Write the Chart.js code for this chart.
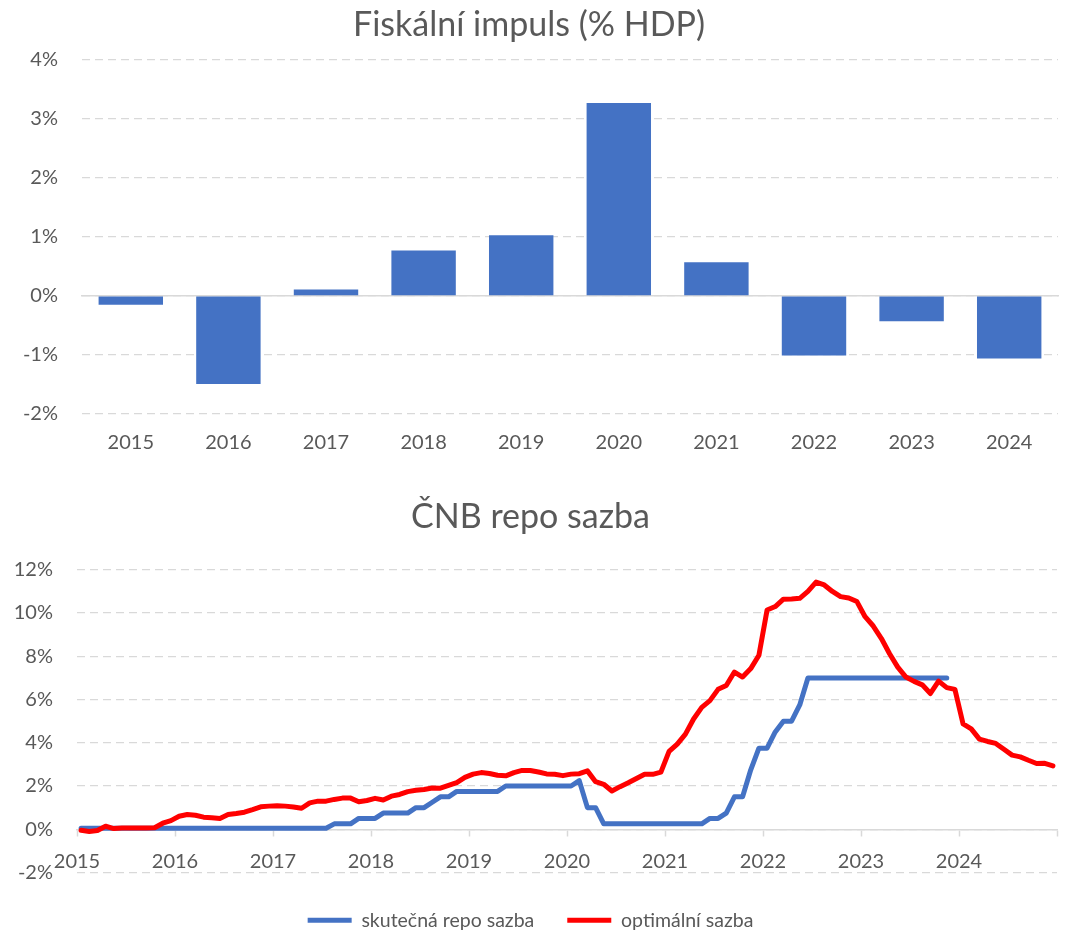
<!DOCTYPE html>
<html>
<head>
<meta charset="utf-8">
<script src="https://cdn.jsdelivr.net/npm/chart.js@4/dist/chart.umd.min.js"></script>
<style>
    html, body { margin: 0; padding: 0; background: #fff; }
    .box { position: absolute; left: 0; width: 1071px; }
    #topBox { top: 0; height: 470px; }
    #bottomBox { top: 470px; height: 465px; }
</style>
</head>
<body>
<div class="box" id="topBox"><canvas id="impulsChart"></canvas></div>
<div class="box" id="bottomBox"><canvas id="repoChart"></canvas></div>
<script>
// Fiskální impuls (% HDP)
const impulseYears = ['2015', '2016', '2017', '2018', '2019', '2020', '2021', '2022', '2023', '2024'];
const impulseValues = [-0.15, -1.49, 0.11, 0.77, 1.03, 3.27, 0.57, -1.01, -0.43, -1.06];

// ČNB repo sazba, monthly from Jan 2015 to Dec 2024
const repoStartYear = 2015;
const actualRepo = [
    0.05, 0.05, 0.05, 0.05, 0.05, 0.05, 0.05, 0.05, 0.05, 0.05, 0.05, 0.05, // 2015
    0.05, 0.05, 0.05, 0.05, 0.05, 0.05, 0.05, 0.05, 0.05, 0.05, 0.05, 0.05, // 2016
    0.05, 0.05, 0.05, 0.05, 0.05, 0.05, 0.05, 0.25, 0.25, 0.25, 0.5, 0.5,   // 2017
    0.5, 0.75, 0.75, 0.75, 0.75, 1.0, 1.0, 1.25, 1.5, 1.5, 1.75, 1.75,      // 2018
    1.75, 1.75, 1.75, 1.75, 2.0, 2.0, 2.0, 2.0, 2.0, 2.0, 2.0, 2.0,         // 2019
    2.0, 2.25, 1.0, 1.0, 0.25, 0.25, 0.25, 0.25, 0.25, 0.25, 0.25, 0.25,    // 2020
    0.25, 0.25, 0.25, 0.25, 0.25, 0.5, 0.5, 0.75, 1.5, 1.5, 2.75, 3.75,     // 2021
    3.75, 4.5, 5.0, 5.0, 5.75, 7.0, 7.0, 7.0, 7.0, 7.0, 7.0, 7.0,           // 2022
    7.0, 7.0, 7.0, 7.0, 7.0, 7.0, 7.0, 7.0, 7.0, 7.0, 7.0, null,            // 2023
    null, null, null, null, null, null, null, null, null, null, null, null  // 2024
];
const optimalRate = [
    -0.05, -0.1, -0.06, 0.14, 0.03, 0.06, 0.06, 0.06, 0.06, 0.07, 0.28, 0.4, // 2015
    0.6, 0.68, 0.65, 0.56, 0.53, 0.5, 0.68, 0.73, 0.79, 0.91, 1.04, 1.07,     // 2016
    1.09, 1.07, 1.03, 0.97, 1.22, 1.3, 1.3, 1.38, 1.44, 1.44, 1.27, 1.33,     // 2017
    1.43, 1.35, 1.53, 1.61, 1.74, 1.8, 1.84, 1.91, 1.9, 2.03, 2.16, 2.4,      // 2018
    2.55, 2.62, 2.58, 2.5, 2.47, 2.62, 2.72, 2.72, 2.65, 2.56, 2.54, 2.48,    // 2019
    2.55, 2.57, 2.7, 2.2, 2.08, 1.77, 1.97, 2.15, 2.35, 2.54, 2.54, 2.64,     // 2020
    3.6, 3.94, 4.4, 5.1, 5.64, 5.95, 6.47, 6.65, 7.27, 7.04, 7.43, 8.05,      // 2021
    10.14, 10.3, 10.64, 10.65, 10.68, 11.0, 11.43, 11.3, 11.0, 10.76, 10.7, 10.53, // 2022
    9.83, 9.4, 8.82, 8.12, 7.5, 7.04, 6.84, 6.68, 6.28, 6.85, 6.55, 6.47,     // 2023
    4.87, 4.64, 4.17, 4.06, 3.97, 3.7, 3.43, 3.35, 3.19, 3.04, 3.05, 2.93     // 2024
];

const textColor = '#595959';
const gridColor = '#d9d9d9';
const blue = '#4472c4';
const red = '#ff0000';

Chart.defaults.font.family = 'Lato, "Open Sans", sans-serif';
Chart.defaults.color = textColor;

const pct = v => v + '%';
// mid-month dates as fractional years
const toPoints = values => values.map((v, i) => ({ x: repoStartYear + (i + 0.5) / 12, y: v }));

// Fiscal impulse bar chart
new Chart(document.getElementById('impulsChart'), {
    type: 'bar',
    data: {
        labels: impulseYears,
        datasets: [{
            data: impulseValues,
            backgroundColor: blue,
            barPercentage: 0.66,
            categoryPercentage: 1,
            xAxisID: 'x'
        }]
    },
    options: {
        responsive: true,
        maintainAspectRatio: false,
        animation: false,
        layout: { padding: { left: 0, right: 13, top: 0, bottom: 0 } },
        plugins: {
            legend: { display: false },
            tooltip: { enabled: false },
            title: {
                display: true,
                text: 'Fiskální impuls (% HDP)',
                color: textColor,
                font: { size: 34, weight: 'normal' },
                padding: { top: 5, bottom: 14 }
            }
        },
        scales: {
            x: {
                grid: { display: false },
                border: { display: false },
                ticks: { font: { size: 20 }, padding: 9 },
                afterFit: s => { s.height = 56; }
            },
            zeroLine: {
                axis: 'x',
                type: 'category',
                labels: impulseYears,
                position: { y: 0 },
                ticks: { display: false },
                grid: { display: false },
                border: { display: true, color: gridColor, width: 1.5 }
            },
            y: {
                min: -2,
                max: 4,
                ticks: { stepSize: 1, callback: pct, font: { size: 20 }, padding: 24 },
                grid: { color: gridColor, drawTicks: false, lineWidth: 1.3 },
                border: { display: false, dash: [8, 5] },
                afterFit: s => { s.width = 82; }
            }
        }
    }
});

// Repo rate line chart
new Chart(document.getElementById('repoChart'), {
    type: 'line',
    data: {
        datasets: [{
            label: 'skutečná repo sazba',
            data: toPoints(actualRepo),
            borderColor: blue,
            backgroundColor: blue,
            borderWidth: 5,
            borderCapStyle: 'round',
            borderJoinStyle: 'round',
            pointRadius: 0,
            xAxisID: 'x',
            order: 1
        }, {
            label: 'optimální sazba',
            data: toPoints(optimalRate),
            borderColor: red,
            backgroundColor: red,
            borderWidth: 5,
            borderCapStyle: 'round',
            borderJoinStyle: 'round',
            pointRadius: 0,
            xAxisID: 'x',
            order: 0
        }]
    },
    options: {
        responsive: true,
        maintainAspectRatio: false,
        animation: false,
        layout: { padding: { left: 0, right: 10, top: 0, bottom: -5 } },
        plugins: {
            tooltip: { enabled: false },
            title: {
                display: true,
                text: 'ČNB repo sazba',
                color: textColor,
                font: { size: 34, weight: 'normal' },
                padding: { top: 27, bottom: 32 }
            },
            legend: {
                position: 'bottom',
                labels: {
                    usePointStyle: true,
                    pointStyle: 'line',
                    pointStyleWidth: 44,
                    padding: 33,
                    font: { size: 19.5 },
                    color: textColor,
                    sort: (a, b) => a.datasetIndex - b.datasetIndex
                }
            }
        },
        scales: {
            x: {
                type: 'linear',
                position: { y: 0 },
                min: 2015,
                max: 2025,
                ticks: {
                    stepSize: 1,
                    autoSkip: false,
                    maxRotation: 0,
                    font: { size: 20 },
                    padding: 14,
                    callback: v => (v < 2025 ? String(v) : '')
                },
                grid: { drawOnChartArea: false, color: gridColor, tickLength: 6, tickWidth: 1.5 },
                border: { display: true, color: gridColor, width: 1.5 }
            },
            gap: {
                axis: 'x',
                type: 'linear',
                position: 'bottom',
                ticks: { display: false },
                grid: { display: false },
                border: { display: false },
                afterFit: s => { s.height = 5; }
            },
            y: {
                min: -2,
                max: 12,
                ticks: { stepSize: 2, callback: pct, font: { size: 20 }, padding: 24 },
                grid: { color: gridColor, drawTicks: false, lineWidth: 1.3 },
                border: { display: false, dash: [8, 5] },
                afterFit: s => { s.width = 77; }
            }
        }
    }
});
</script>
</body>
</html>
